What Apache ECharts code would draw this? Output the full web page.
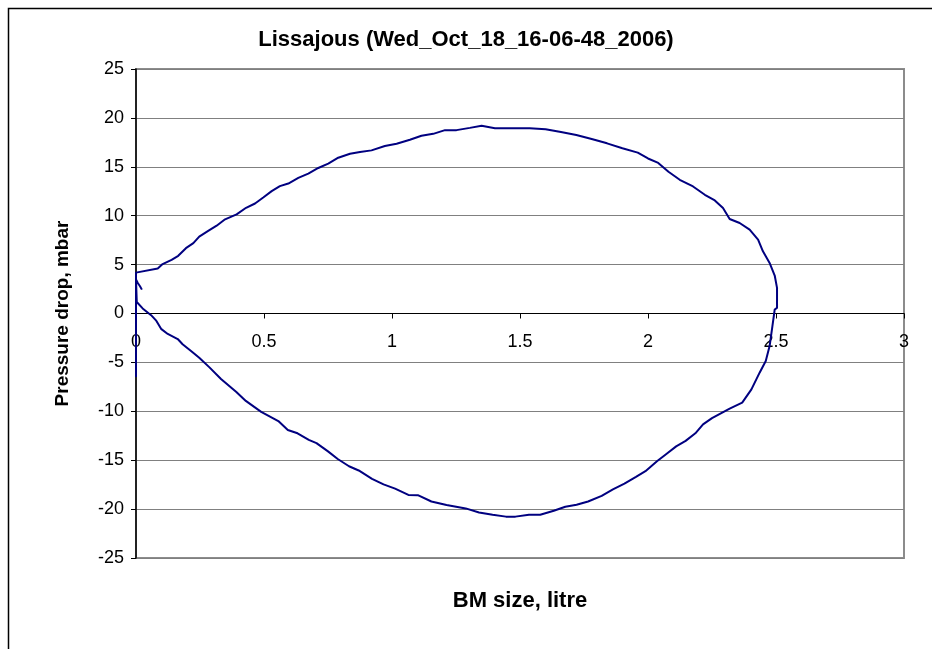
<!DOCTYPE html>
<html>
<head>
    <meta charset="utf-8">
    <title>Lissajous</title>
    <style type="text/css">
        html, body {
            margin: 0;
            padding: 0;
            width: 100%;
            height: 100%;
            background: #fff;
            overflow: hidden;
        }
        #main {
            width: 932px;
            height: 649px;
        }
    </style>
</head>
<body>
    <div id="main"></div>
    <script src="https://cdn.jsdelivr.net/npm/echarts/dist/echarts.min.js"></script>
    <script>
        // BM size (litre) and pressure drop (mbar), in recorded order
        var bmSize = [
            0, 0,
            0.085, 0.104, 0.139, 0.165, 0.195, 0.224, 0.247, 0.282, 0.315, 0.348, 0.393, 0.430, 0.465, 0.497,
            0.530, 0.562, 0.595, 0.634, 0.673, 0.712, 0.751, 0.790, 0.836, 0.875, 0.920, 0.972, 1.018, 1.070,
            1.115, 1.161, 1.207, 1.252, 1.304, 1.350, 1.402, 1.538,
            1.60, 1.66, 1.72, 1.78, 1.84, 1.90, 1.96, 2.00, 2.04, 2.08, 2.124,
            2.176, 2.222, 2.261, 2.293, 2.319, 2.358, 2.397, 2.430, 2.449, 2.475, 2.495, 2.504, 2.504, 2.495,
            2.486, 2.475, 2.460, 2.436, 2.404, 2.368, 2.319, 2.25,
            2.215, 2.185, 2.147, 2.110, 2.073, 2.035, 1.990, 1.953, 1.908, 1.863, 1.819, 1.766, 1.721, 1.677,
            1.632, 1.579, 1.535, 1.482, 1.445, 1.393, 1.340, 1.288, 1.213, 1.154, 1.101, 1.064, 1.012, 0.967,
            0.922, 0.870, 0.832, 0.788, 0.750, 0.705, 0.675, 0.631, 0.593, 0.556, 0.489, 0.429, 0.392, 0.332,
            0.287, 0.247, 0.215, 0.182, 0.163, 0.124, 0.098, 0.078, 0.059, 0.026, 0.003,
            0, 0.0065, 0.0156, 0.023
        ];
        var pressureDrop = [
            -6.5, 4.18,
            4.6, 5.05, 5.49, 5.90, 6.68, 7.19, 7.86, 8.44, 8.98, 9.63, 10.14, 10.81, 11.25, 11.86,
            12.51, 13.02, 13.29, 13.86, 14.31, 14.88, 15.32, 15.93, 16.34, 16.51, 16.68, 17.12, 17.36, 17.76,
            18.17, 18.37, 18.75, 18.75, 18.98, 19.19, 18.95, 18.95,
            18.85, 18.55, 18.25, 17.85, 17.4, 16.9, 16.45, 15.85, 15.4, 14.5, 13.67,
            12.99, 12.14, 11.56, 10.78, 9.66, 9.25, 8.57, 7.55, 6.36, 5.17, 3.88, 2.62, 0.58, 0.41,
            -1.29, -3.33, -4.86, -6.05, -7.76, -9.12, -9.73, -10.7,
            -11.34, -12.25, -13.02, -13.59, -14.34, -15.11, -16.12, -16.7, -17.4, -17.98, -18.65, -19.22, -19.56, -19.76,
            -20.17, -20.57, -20.57, -20.77, -20.77, -20.57, -20.34, -19.93, -19.59, -19.22, -18.58, -18.55, -17.91, -17.47,
            -16.9, -16.05, -15.62, -14.88, -14.1, -13.26, -12.92, -12.25, -11.91, -11.0, -10.06, -8.94, -8.03, -6.69,
            -5.51, -4.53, -3.83, -3.14, -2.61, -2.09, -1.57, -0.70, -0.17, 0.52, 1.18,
            3.48, 3.14, 2.79, 2.44
        ];
        var xTicks = [0, 0.5, 1, 1.5, 2, 2.5, 3];
        var yTicks = [-25, -20, -15, -10, -5, 0, 5, 10, 15, 20, 25];

        var points = bmSize.map(function (x, i) { return [x, pressureDrop[i]]; });
        var font = '"Liberation Sans", Arial, sans-serif';

        var gridTop = 69, gridHeight = 489;
        var yMin = yTicks[0], yMax = yTicks[yTicks.length - 1];
        // lift the x axis (line, ticks, labels) up to pressure = 0, like the original
        var zeroLift = gridHeight * (0 - yMin) / (yMax - yMin);

        var myChart = echarts.init(document.getElementById('main'));
        var option = {
            backgroundColor: '#fff',
            animation: false,
            title: {
                text: 'Lissajous (Wed_Oct_18_16-06-48_2006)',
                left: 'center',
                top: 24,
                textStyle: { fontFamily: font, fontSize: 22, fontWeight: 'bold', color: '#000' }
            },
            graphic: [{
                // outer chart frame (right and bottom edges fall outside the window)
                type: 'rect',
                left: 6, top: 6,
                shape: { width: 1000, height: 1000 },
                style: { fill: 'none', stroke: '#000', lineWidth: 1.5 },
                silent: true
            }],
            grid: {
                left: 136,
                top: gridTop,
                width: 768,
                height: gridHeight,
                outerBoundsMode: 'none',
                containLabel: false,
                show: true,
                borderColor: '#8c8c8c',
                borderWidth: 2,
                backgroundColor: '#fff'
            },
            xAxis: {
                type: 'value',
                min: xTicks[0],
                max: xTicks[xTicks.length - 1],
                interval: 0.5,
                position: 'bottom',
                offset: -zeroLift,
                name: 'BM size, litre',
                nameLocation: 'middle',
                nameGap: 32 + zeroLift,
                nameTextStyle: { fontFamily: font, fontSize: 22, fontWeight: 'bold', color: '#000' },
                axisLine: { onZero: false, lineStyle: { color: '#000', width: 1 } },
                axisTick: { show: true, length: 5, lineStyle: { color: '#000' } },
                axisLabel: { margin: 20, fontFamily: font, fontSize: 18, color: '#000' },
                splitLine: { show: false }
            },
            yAxis: {
                type: 'value',
                min: yMin,
                max: yMax,
                interval: 5,
                name: 'Pressure drop, mbar',
                nameLocation: 'middle',
                nameGap: 64,
                nameTextStyle: { fontFamily: font, fontSize: 19, fontWeight: 'bold', color: '#000' },
                axisLine: { show: true, onZero: false, lineStyle: { color: '#000', width: 1.5 } },
                axisTick: { show: true, length: 5, lineStyle: { color: '#000' } },
                axisLabel: { margin: 12, fontFamily: font, fontSize: 18, color: '#000' },
                splitLine: { show: true, lineStyle: { color: '#808080', width: 1 } }
            },
            series: [{
                name: 'Lissajous',
                type: 'line',
                data: points,
                showSymbol: false,
                smooth: false,
                lineStyle: { color: '#000080', width: 2 }
            }]
        };
        myChart.setOption(option);
    </script>
</body>
</html>
